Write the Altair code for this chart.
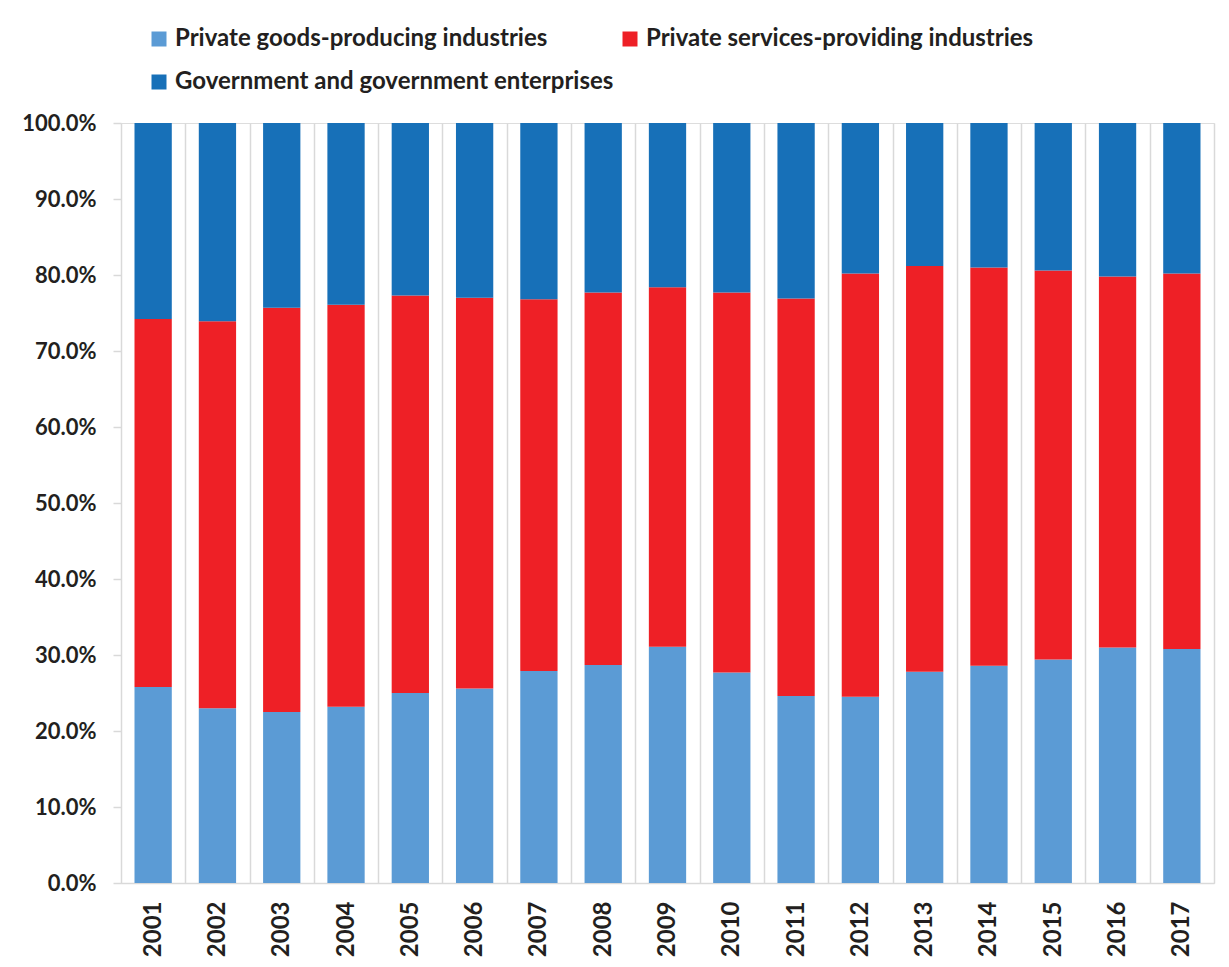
import altair as alt
import pandas as pd

years = [str(y) for y in range(2001, 2018)]
series_names = [
    "Private goods-producing industries",
    "Private services-providing industries",
    "Government and government enterprises",
]
goods = [25.8, 23.0, 22.5, 23.2, 25.0, 25.6, 27.9, 28.7, 31.1, 27.7, 24.6, 24.5, 27.8, 28.6, 29.4, 31.0, 30.8]
services = [48.4, 50.9, 53.2, 52.9, 52.3, 51.4, 48.9, 49.0, 47.3, 50.0, 52.3, 55.7, 53.4, 52.4, 51.2, 48.8, 49.4]
government = [25.8, 26.1, 24.3, 23.9, 22.7, 23.0, 23.2, 22.3, 21.6, 22.3, 23.1, 19.8, 18.8, 19.0, 19.4, 20.2, 19.8]
colors = ["#5B9BD5", "#EE2026", "#1770B8"]
y_ticks = [i / 10 for i in range(11)]

rows = []
for k, (name, vals) in enumerate(zip(series_names, [goods, services, government])):
    for yr, v in zip(years, vals):
        rows.append({"year": yr, "series": name, "share": v / 100.0, "ord": k})
df = pd.DataFrame(rows)

FONT = "Lato"
TXT = "#231F20"

chart = (
    alt.Chart(df)
    .mark_bar(width={"band": 0.58})
    .encode(
        x=alt.X(
            "year:N",
            sort=years,
            scale=alt.Scale(paddingInner=0, paddingOuter=0),
            axis=alt.Axis(
                title=None,
                labelAngle=270,
                labelFont=FONT,
                labelFontSize=24,
                labelFontWeight="bold",
                labelColor=TXT,
                labelPadding=18,
                ticks=False,
                grid=True,
                gridColor="#D9D9D9",
                gridWidth=1.5,
                tickBand="extent",
                domainColor="#D9D9D9",
                domainWidth=1.5,
            ),
        ),
        y=alt.Y(
            "share:Q",
            stack="zero",
            scale=alt.Scale(domain=[0, 1], nice=False),
            axis=alt.Axis(
                title=None,
                format=".1%",
                values=y_ticks,
                grid=False,
                domain=False,
                tickColor="#D9D9D9",
                tickSize=8,
                tickWidth=1.5,
                labelFont=FONT,
                labelFontSize=22,
                labelFontWeight="bold",
                labelColor=TXT,
                labelPadding=17,
            ),
        ),
        color=alt.Color(
            "series:N",
            scale=alt.Scale(domain=series_names, range=colors),
            legend=alt.Legend(
                title=None,
                orient="none",
                legendX=26,
                legendY=-96,
                direction="horizontal",
                columns=2,
                columnPadding=4,
                rowPadding=19,
                padding=0,
                symbolType="square",
                symbolSize=225,
                symbolStrokeWidth=0,
                labelOffset=4,
                labelFont=FONT,
                labelFontSize=24,
                labelFontWeight="bold",
                labelColor=TXT,
                labelLimit=600,
            ),
        ),
        order=alt.Order("ord:Q", sort="ascending"),
    )
    .properties(
        width=1093,
        height=760,
        padding={"left": 121, "top": 123, "right": 15, "bottom": 84},
        autosize=alt.AutoSizeParams(type="none"),
    )
    .configure_view(stroke=None)
    .configure(background="white")
)

chart.save("out.html", embed_options={"renderer": "svg", "actions": False})
